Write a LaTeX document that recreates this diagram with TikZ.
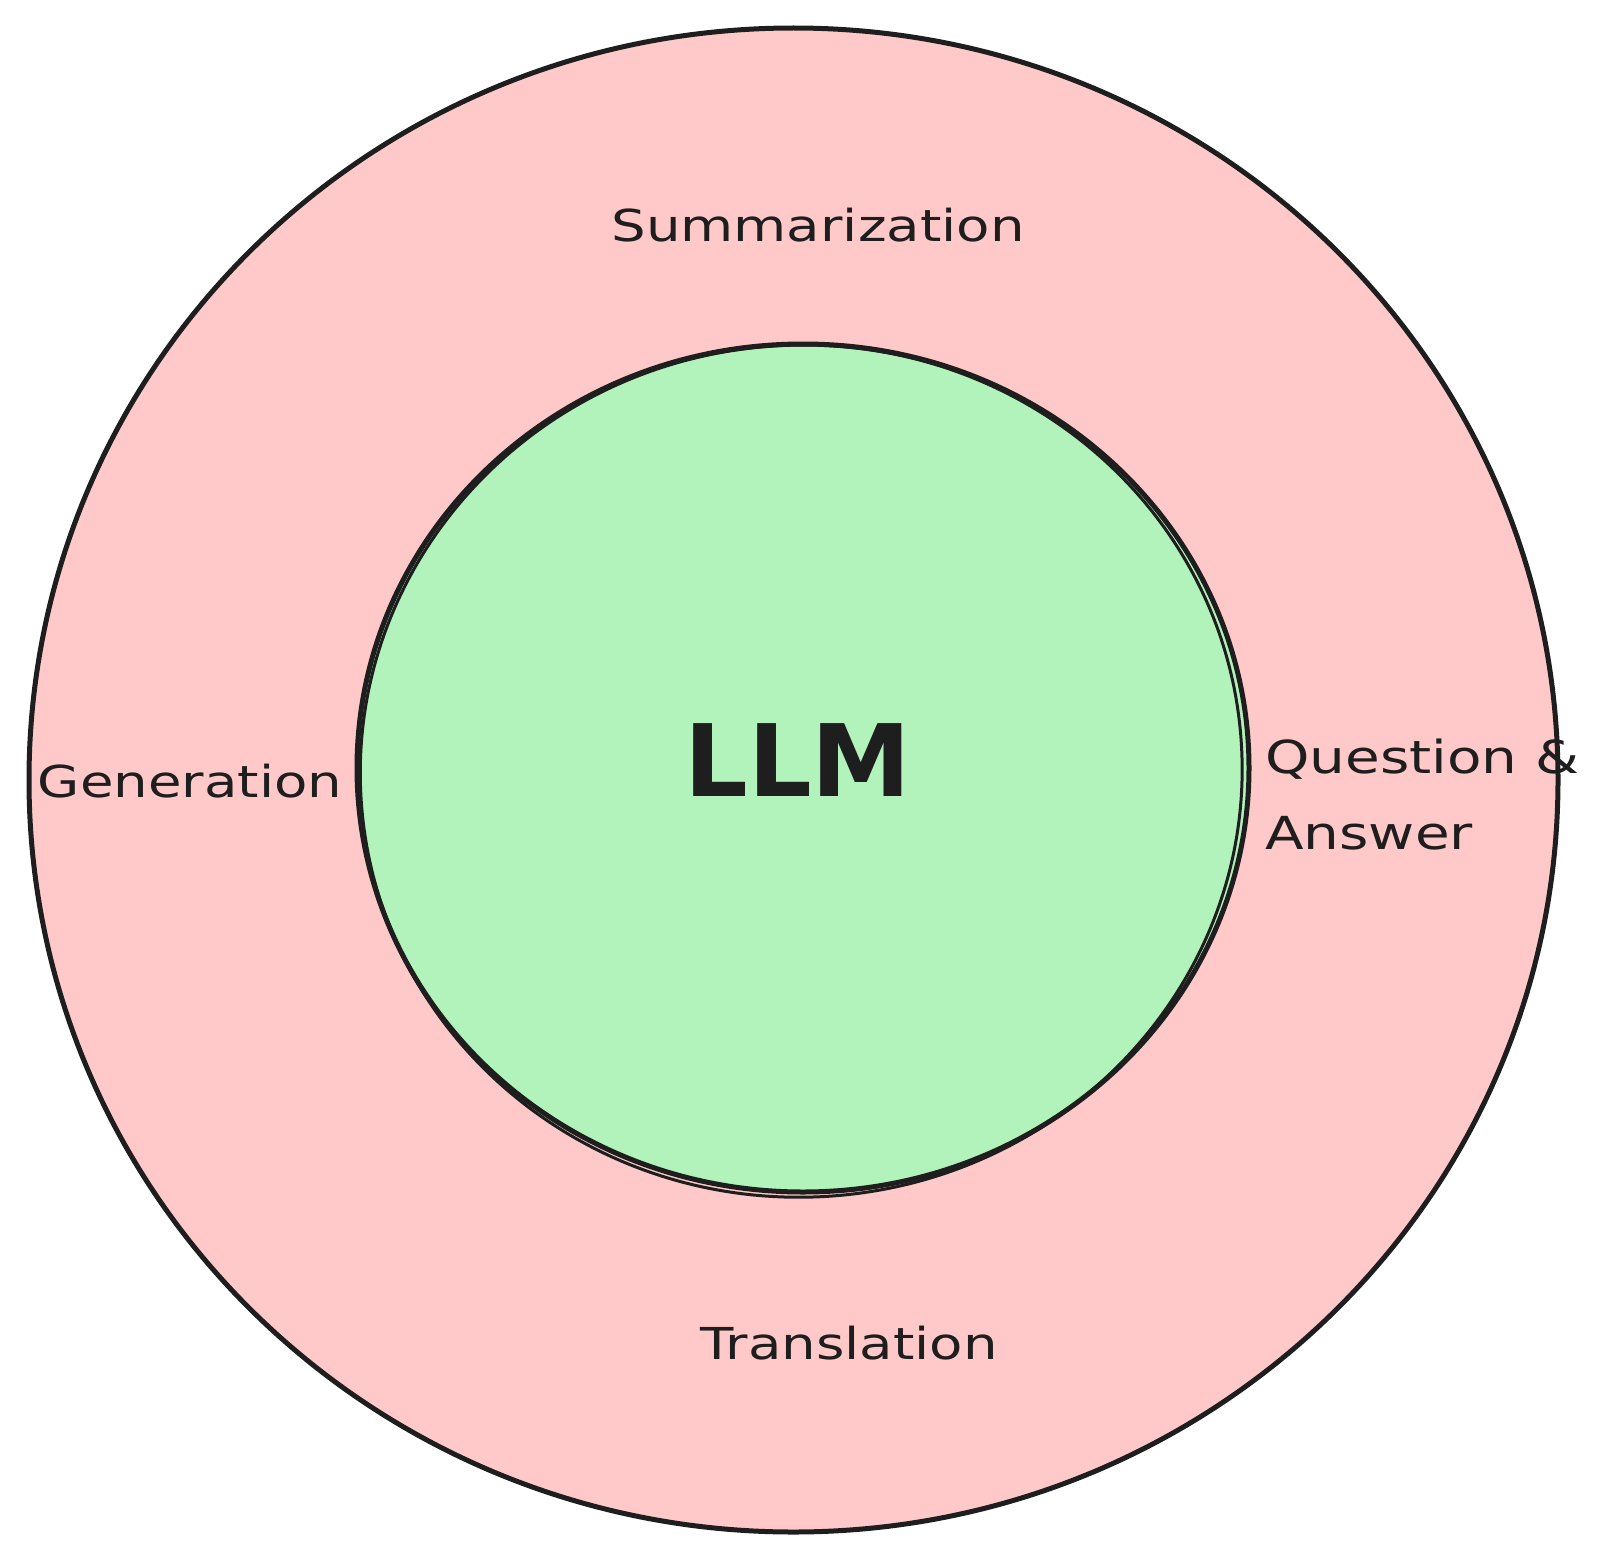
\documentclass[tikz,border=0pt]{standalone}
\usetikzlibrary{shapes.geometric}
\usepackage{fontspec}
\setmainfont[FakeStretch=1.24]{DejaVu Sans}
\newfontfamily\llmfont{DejaVu Sans}
\definecolor{inkc}{HTML}{1E1E1E}
\definecolor{pinkc}{HTML}{FFC9C9}
\definecolor{greenc}{HTML}{B2F2BB}
\begin{document}
\begin{tikzpicture}[x=1pt,y=-1pt,
  lbl/.style={inner sep=0pt, text=inkc, font=\fontsize{44}{76}\selectfont},
  biglbl/.style={inner sep=0pt, text=inkc, font=\llmfont\bfseries\fontsize{100}{110}\selectfont},
  ringshape/.style={ellipse, draw=inkc, inner sep=0pt}]
\useasboundingbox (0,0) rectangle (1616,1560);
% outer circle
\node[ringshape, fill=pinkc, line width=5pt, minimum width=1529pt, minimum height=1504pt] (outerc) at (793.5,780) {};
% inner circle (sketchy double stroke)
\node[ringshape, fill=greenc, line width=5pt, minimum width=892pt, minimum height=848pt] (innerc) at (803,768) {};
\draw[draw=inkc, line width=3pt, rotate around={4:(803,768)}] (801,771) ellipse [x radius=441, y radius=426];
% labels
\node[lbl] (summ) at (818,225) {Summarization};
\node[lbl] (gen) at (190,781) {Generation};
\node[lbl, font=\fontsize{45.5}{76}\selectfont, align=left, anchor=west] (qa) at (1265,795) {Question \&\\Answer};
\node[lbl] (trans) at (849,1343) {Translation};
\node[biglbl] (llm) at (798,760) {LLM};
\end{tikzpicture}
\end{document}
